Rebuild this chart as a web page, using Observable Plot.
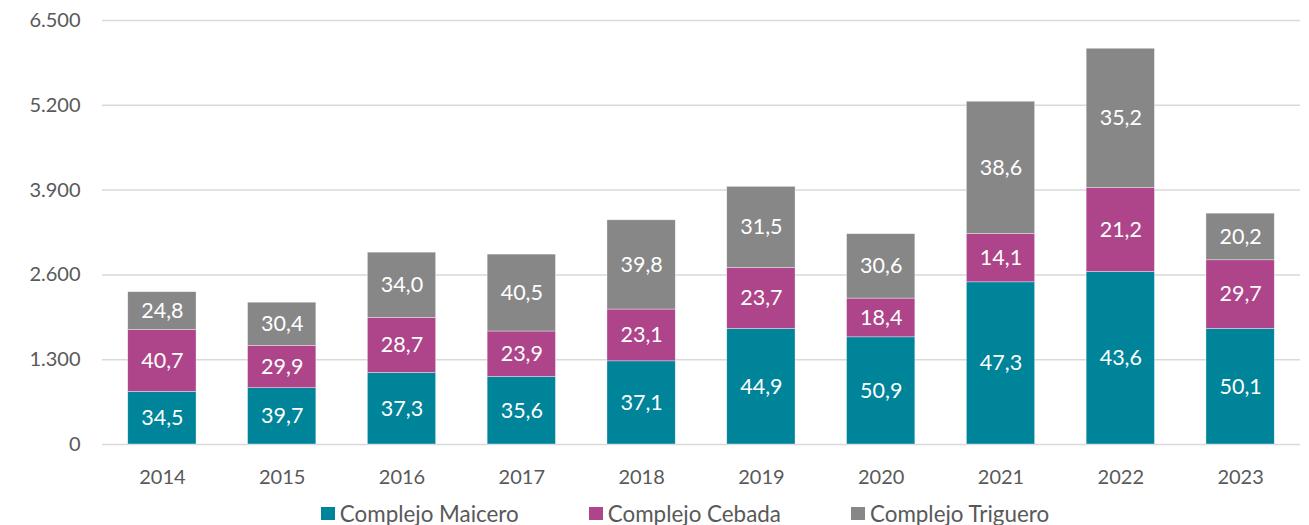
<!DOCTYPE html>
<html>
<head>
<meta charset="utf-8">
<script src="https://cdn.jsdelivr.net/npm/d3@7"></script>
<script src="https://cdn.jsdelivr.net/npm/@observablehq/plot@0.6"></script>
<style>
  html, body { margin: 0; padding: 0; background: #fff; }
  #chart { width: 1309px; }
  .legend { display: flex; justify-content: center; align-items: center; height: 26px;
    font-family: Lato, sans-serif; font-size: 22.4px; color: #595959; padding-left: 61px; }
  .legend .item { display: flex; align-items: center; margin: 0 35px; }
  .legend .sw { width: 14px; height: 13px; margin-right: 5px; }
</style>
</head>
<body>
<div id="chart"></div>
<script>
const years = ["2014","2015","2016","2017","2018","2019","2020","2021","2022","2023"];
const series = ["Complejo Maicero", "Complejo Cebada", "Complejo Triguero"];
const colors = ["#00849A", "#AE4489", "#878787"];
const maicero  = [806, 863, 1097, 1036, 1275, 1772, 1643, 2486, 2645, 1773];
const cebada   = [950, 650,  844,  696,  794,  935,  594,  741, 1286, 1051];
const triguero = [579, 661, 1000, 1179, 1368, 1243,  987, 2028, 2136,  715];
const pctMaicero  = ["34,5","39,7","37,3","35,6","37,1","44,9","50,9","47,3","43,6","50,1"];
const pctCebada   = ["40,7","29,9","28,7","23,9","23,1","23,7","18,4","14,1","21,2","29,7"];
const pctTriguero = ["24,8","30,4","34,0","40,5","39,8","31,5","30,6","38,6","35,2","20,2"];
const yTicks = [0, 1300, 2600, 3900, 5200, 6500];

const values = [maicero, cebada, triguero];
const labels = [pctMaicero, pctCebada, pctTriguero];
const data = [];
series.forEach((s, si) => years.forEach((yr, i) => data.push({year: yr, series: s, value: values[si][i], label: labels[si][i]})));

const fmt = v => d3.format(",")(v).replace(/,/g, ".");

const plot = Plot.plot({
  width: 1309,
  height: 500,
  marginLeft: 102,
  marginRight: 9,
  marginTop: 20,
  marginBottom: 56,
  style: { fontFamily: "Lato, sans-serif", fontSize: "20px", color: "#595959", background: "white" },
  x: { domain: years, paddingInner: 0.43, paddingOuter: 0.215, round: false, label: null },
  y: { domain: [0, 6500], ticks: yTicks, label: null },
  color: { domain: series, range: colors },
  marks: [
    Plot.ruleY(yTicks, { stroke: "#d9d9d9", strokeWidth: 1.5 }),
    Plot.barY(data, Plot.stackY({ x: "year", y: "value", z: "series", fill: "series", order: series, stroke: "white", strokeWidth: 0.6, strokeOpacity: 0.6 })),
    Plot.text(data, Plot.stackY({ x: "year", y: "value", z: "series", order: series, text: "label", fill: "white", fontSize: 21.5 })),
    Plot.axisY({ ticks: yTicks, tickFormat: fmt, tickSize: 0, tickPadding: 22, fontSize: 20, fill: "#595959" }),
    Plot.axisX({ tickSize: 0, tickPadding: 25, fontSize: 20, fill: "#595959" })
  ]
});
document.getElementById("chart").appendChild(plot);

const legend = document.createElement("div");
legend.className = "legend";
series.forEach((s, i) => {
  const it = document.createElement("div");
  it.className = "item";
  const sw = document.createElement("div");
  sw.className = "sw";
  sw.style.background = colors[i];
  const t = document.createElement("span");
  t.textContent = s;
  it.appendChild(sw); it.appendChild(t);
  legend.appendChild(it);
});
document.getElementById("chart").appendChild(legend);
</script>
</body>
</html>
